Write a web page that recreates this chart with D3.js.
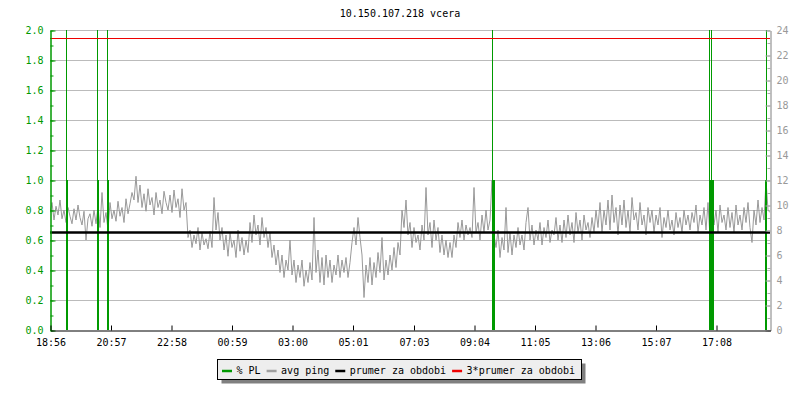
<!DOCTYPE html>
<html>
<head>
<meta charset="utf-8">
<script src="https://cdn.jsdelivr.net/npm/d3@7"></script>
<style>
  body { margin: 0; background: #fff; }
  text { font-family: "DejaVu Sans Mono", monospace; font-size: 10px; }
</style>
</head>
<body>
<div id="chart"></div>
<script>
// ---- data ----
const title = "10.150.107.218 vcera";
const startLabel = "18:56";          // graph covers 24h from this time
const sampleMinutes = 4;             // one ping sample every 4 minutes

// avg ping [ms], right axis
const avgPing = [
  9.4, 10.2, 8.8, 9.9, 9.2, 10.4, 8.9, 9.6, 8.6, 9.8, 9.1, 8.5, 9.7, 8.8, 10.0, 9.0, 8.4, 9.5, 7.2, 8.9,
  9.3, 8.3, 9.6, 8.5, 9.9, 8.2, 11.0, 8.6, 9.4, 8.0, 10.2, 8.9, 9.6, 8.7, 10.3, 9.1, 9.8, 8.6, 10.5, 9.3,
  10.1, 11.0, 10.4, 12.3, 10.2, 11.6, 9.8, 10.9, 9.5, 11.3, 10.0, 10.6, 9.2, 11.0, 9.8, 10.4, 9.3, 11.1, 10.2, 9.6,
  10.8, 9.4, 11.2, 9.8, 10.5, 9.0, 11.3, 9.6, 10.2, 7.4, 8.0, 6.6, 7.6, 6.9, 8.2, 6.4, 7.8, 6.8, 7.3, 6.5,
  7.9, 6.6, 10.6, 8.0, 9.4, 7.2, 8.2, 6.4, 7.6, 5.9, 7.8, 6.6, 7.2, 5.8, 8.0, 6.3, 7.4, 6.0, 7.2, 6.2,
  8.6, 7.0, 9.2, 7.6, 8.4, 6.8, 9.0, 7.4, 8.2, 6.6, 7.8, 5.8, 6.8, 5.2, 6.4, 4.6, 6.0, 4.2, 5.6, 4.8,
  7.2, 4.4, 5.6, 3.8, 5.2, 4.2, 5.6, 3.5, 4.8, 3.8, 5.4, 4.0, 9.0, 4.6, 6.4, 3.8, 5.8, 3.6, 6.0, 4.2,
  5.6, 3.8, 5.2, 4.4, 6.0, 4.2, 5.6, 4.6, 5.8, 4.2, 5.4, 7.0, 8.2, 6.8, 9.0, 7.4, 6.0, 2.6, 5.2, 3.8,
  5.8, 3.6, 5.4, 4.2, 6.2, 4.6, 7.4, 4.0, 5.6, 4.4, 6.0, 4.8, 6.6, 5.0, 7.0, 6.0, 9.6, 8.2, 10.4, 7.6,
  8.6, 6.6, 8.2, 7.0, 7.6, 6.4, 8.4, 7.2, 11.4, 7.6, 8.6, 6.6, 8.8, 7.2, 8.2, 6.2, 7.6, 6.0, 7.2, 5.8,
  7.0, 5.8, 7.6, 6.6, 8.6, 7.4, 8.8, 7.2, 8.4, 7.6, 8.2, 7.4, 11.4, 7.8, 8.6, 7.2, 9.2, 7.8, 9.6, 8.0,
  8.8, 12.0, 7.6, 6.6, 8.0, 5.8, 7.4, 6.4, 9.8, 6.2, 7.8, 6.0, 7.6, 6.6, 8.2, 6.8, 7.6, 6.4, 8.6, 9.8,
  7.2, 8.4, 6.8, 8.0, 7.2, 8.6, 6.8, 8.2, 7.4, 8.8, 7.0, 8.0, 7.6, 9.0, 7.2, 8.4, 7.0, 8.8, 7.4, 9.2,
  7.6, 8.6, 7.0, 9.4, 7.8, 8.8, 7.2, 9.2, 8.0, 8.6, 7.4, 9.0, 7.8, 9.6, 8.2, 10.2, 7.8, 9.6, 8.4, 10.4,
  8.0, 10.8, 8.6, 9.8, 7.6, 10.0, 8.4, 10.4, 8.2, 9.6, 7.8, 10.6, 8.8, 9.4, 8.0, 10.2, 8.4, 9.2, 7.6, 9.8,
  8.6, 9.6, 7.8, 9.2, 8.4, 9.8, 7.4, 9.0, 8.2, 9.6, 8.0, 8.8, 7.6, 9.4, 8.2, 9.0, 7.8, 9.6, 8.4, 9.2,
  8.0, 9.4, 8.6, 10.0, 7.8, 9.2, 8.4, 9.8, 8.0, 10.2, 7.4, 9.0, 8.4, 9.6, 7.8, 10.0, 8.6, 9.2, 8.0, 9.8,
  8.2, 9.4, 7.8, 10.0, 8.4, 9.2, 8.0, 9.8, 8.6, 10.2, 8.2, 7.0, 9.6, 8.4, 10.4, 8.6, 9.8, 8.8, 12.0, 9.6,
  9.4
];

// % PL samples, left axis (values above 2 run off the top)
const plTimes  = ["19:29", "19:31", "20:31", "20:33", "20:51", "20:53",
                  "09:41", "09:43", "09:45", "16:55", "16:57", "16:59",
                  "17:01", "17:03", "18:47", "18:49"];
const plValues = [5, 1, 5, 1, 5, 1,
                  5, 1, 1, 5, 1, 5,
                  1, 1, 1, 5];

const prumer = 7.8;                  // prumer za obdobi [ms]
const prumer3 = 3 * prumer;          // 3*prumer za obdobi

const leftTicks  = [0, 0.2, 0.4, 0.6, 0.8, 1.0, 1.2, 1.4, 1.6, 1.8, 2.0];
const rightTicks = [0, 2, 4, 6, 8, 10, 12, 14, 16, 18, 20, 22, 24];
const timeTicks  = ["18:56", "20:57", "22:58", "00:59", "03:00", "05:01",
                    "07:03", "09:04", "11:05", "13:06", "15:07", "17:08"];

const legendLabels = ["% PL", "avg ping", "prumer za obdobi", "3*prumer za obdobi"];
const legendColors = ["#009900", "#a0a0a0", "#000000", "#ee0000"];

// ---- helpers ----
const base = new Date(2023, 0, 1, 0, 0);
function toMin(s) { const p = s.split(":"); return +p[0] * 60 + +p[1]; }
const startMin = toMin(startLabel);
function toDate(s) {
  let m = toMin(s) - startMin;
  if (m < 0) m += 1440;
  return new Date(base.getTime() + (startMin + m) * 60000);
}
const t0 = toDate(startLabel);
const t1 = new Date(t0.getTime() + 1440 * 60000);

// ---- layout ----
const width = 800, height = 400;
const pLeft = 50, pRight = 770, pTop = 30, pBottom = 330;

const svg = d3.select("#chart").append("svg")
  .attr("width", width)
  .attr("height", height);

const x = d3.scaleTime().domain([t0, t1]).range([pLeft, pRight]);
const yL = d3.scaleLinear().domain([0, 2]).range([pBottom, pTop]);
const yR = d3.scaleLinear().domain([0, 24]).range([pBottom, pTop]);

svg.append("defs").append("clipPath").attr("id", "plot")
  .append("rect")
  .attr("x", pLeft).attr("y", pTop)
  .attr("width", pRight - pLeft).attr("height", pBottom - pTop);

// title
svg.append("text")
  .attr("x", width / 2).attr("y", 17)
  .attr("text-anchor", "middle")
  .attr("fill", "#000")
  .text(title);

// grid
svg.append("g")
  .selectAll("line")
  .data(leftTicks.filter(d => d > 0))
  .enter().append("line")
  .attr("x1", pLeft).attr("x2", pRight)
  .attr("y1", d => Math.round(yL(d)) + 0.5)
  .attr("y2", d => Math.round(yL(d)) + 0.5)
  .attr("stroke", "#bbbbbb");

const plot = svg.append("g").attr("clip-path", "url(#plot)");

// avg ping
const pingData = avgPing.map((v, i) => ({ t: new Date(t0.getTime() + i * sampleMinutes * 60000), v: v }));
plot.append("path")
  .datum(pingData)
  .attr("fill", "none")
  .attr("stroke", "#999999")
  .attr("stroke-width", 1)
  .attr("d", d3.line().x(d => x(d.t)).y(d => yR(d.v)));

// % PL impulses
plot.selectAll(".pl")
  .data(plTimes.map((t, i) => ({ t: toDate(t), v: plValues[i] })))
  .enter().append("line")
  .attr("class", "pl")
  .attr("x1", d => x(d.t)).attr("x2", d => x(d.t))
  .attr("y1", yL(0)).attr("y2", d => yL(d.v))
  .attr("stroke", "#009900")
  .attr("stroke-width", 1);

// averages
plot.append("line")
  .attr("x1", pLeft).attr("x2", pRight)
  .attr("y1", yR(prumer)).attr("y2", yR(prumer))
  .attr("stroke", "#000").attr("stroke-width", 2.5);

plot.append("line")
  .attr("x1", pLeft).attr("x2", pRight)
  .attr("y1", Math.round(yR(prumer3)) + 0.5).attr("y2", Math.round(yR(prumer3)) + 0.5)
  .attr("stroke", "#ee0000").attr("stroke-width", 1);

// left axis (green)
const gL = svg.append("g").attr("transform", `translate(${pLeft + 0.5},0.5)`);
gL.append("g").call(d3.axisLeft(yL).tickValues(yL.ticks(20)).tickSizeInner(-3).tickSizeOuter(0).tickFormat(""));
gL.append("g").call(d3.axisLeft(yL).tickValues(leftTicks).tickSizeInner(-5).tickSizeOuter(0).tickPadding(7).tickFormat(d3.format(".1f")));
gL.selectAll("path, line").attr("stroke", "#009900");
gL.selectAll("text").attr("fill", "#009900");

// right axis (grey)
const gR = svg.append("g").attr("transform", `translate(${pRight + 0.5},0.5)`);
gR.append("g").call(d3.axisRight(yR).tickValues(yR.ticks(24)).tickSizeInner(-3).tickSizeOuter(0).tickFormat(""));
gR.append("g").call(d3.axisRight(yR).tickValues(rightTicks).tickSizeInner(-5).tickSizeOuter(0).tickPadding(6));
gR.selectAll("path, line").attr("stroke", "#aaaaaa");
gR.selectAll("text").attr("fill", "#999999");

// bottom axis (black)
const gB = svg.append("g").attr("transform", `translate(0.5,${pBottom + 0.5})`);
gB.call(d3.axisBottom(x)
  .tickValues(timeTicks.map(toDate))
  .tickFormat((d, i) => timeTicks[i])
  .tickSizeInner(-5).tickSizeOuter(0).tickPadding(8));
gB.selectAll("path, line").attr("stroke", "#000");
gB.selectAll("text").attr("fill", "#000");

// legend
const lg = svg.append("g").attr("transform", "translate(217.5,359.5)");
const lgW = 364, lgH = 20;
lg.append("rect").attr("x", 4).attr("y", 4).attr("width", lgW).attr("height", lgH).attr("fill", "#808080");
lg.append("rect").attr("width", lgW).attr("height", lgH).attr("fill", "#eeeeee").attr("stroke", "#000");

let cx = 4.5;
legendLabels.forEach((lab, i) => {
  lg.append("line")
    .attr("x1", cx).attr("x2", cx + 10)
    .attr("y1", 11.5).attr("y2", 11.5)
    .attr("stroke", legendColors[i]).attr("stroke-width", 2.5);
  const t = lg.append("text")
    .attr("x", cx + 14.5).attr("y", 14.5)
    .attr("fill", "#000")
    .text(lab);
  cx += 14.5 + t.node().getComputedTextLength() + 6;
});
</script>
</body>
</html>
